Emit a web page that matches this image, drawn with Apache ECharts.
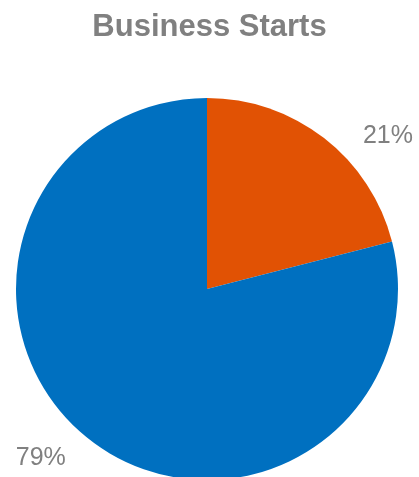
<!DOCTYPE html>
<html>
<head>
<meta charset="utf-8">
<script src="https://cdn.jsdelivr.net/npm/echarts@6/dist/echarts.min.js"></script>
<style>
html,body{margin:0;padding:0;background:#fff;}
#chart{width:419px;height:477px;}
</style>
</head>
<body>
<div id="chart"></div>
<script>
const categories = ['Other', 'Main'];
const values = [21, 79];
const colors = ['#E15204', '#0070C0'];
const labelLen = [3, 23];
const labelLen2 = [32, 5];

const chart = echarts.init(document.getElementById('chart'), null, {renderer: 'canvas'});
chart.setOption({
  animation: false,
  title: {
    text: 'Business Starts',
    left: 'center',
    top: 7,
    textStyle: {fontFamily: 'Liberation Sans, Arial, sans-serif', fontSize: 31, fontWeight: 'bold', color: '#808080'}
  },
  series: [{
    type: 'pie',
    center: [207, 289],
    radius: [0, 191],
    startAngle: 90,
    clockwise: true,
    avoidLabelOverlap: false,
    label: {
      show: true,
      position: 'outside',
      formatter: '{c}%',
      fontFamily: 'Liberation Sans, Arial, sans-serif',
      fontSize: 25,
      color: '#808080'
    },
    labelLine: {show: false},
    emphasis: {disabled: true},
    data: categories.map((c, i) => ({
      name: c,
      value: values[i],
      itemStyle: {color: colors[i]},
      labelLine: {show: false, length: labelLen[i], length2: labelLen2[i]}
    }))
  }]
});
</script>
</body>
</html>
